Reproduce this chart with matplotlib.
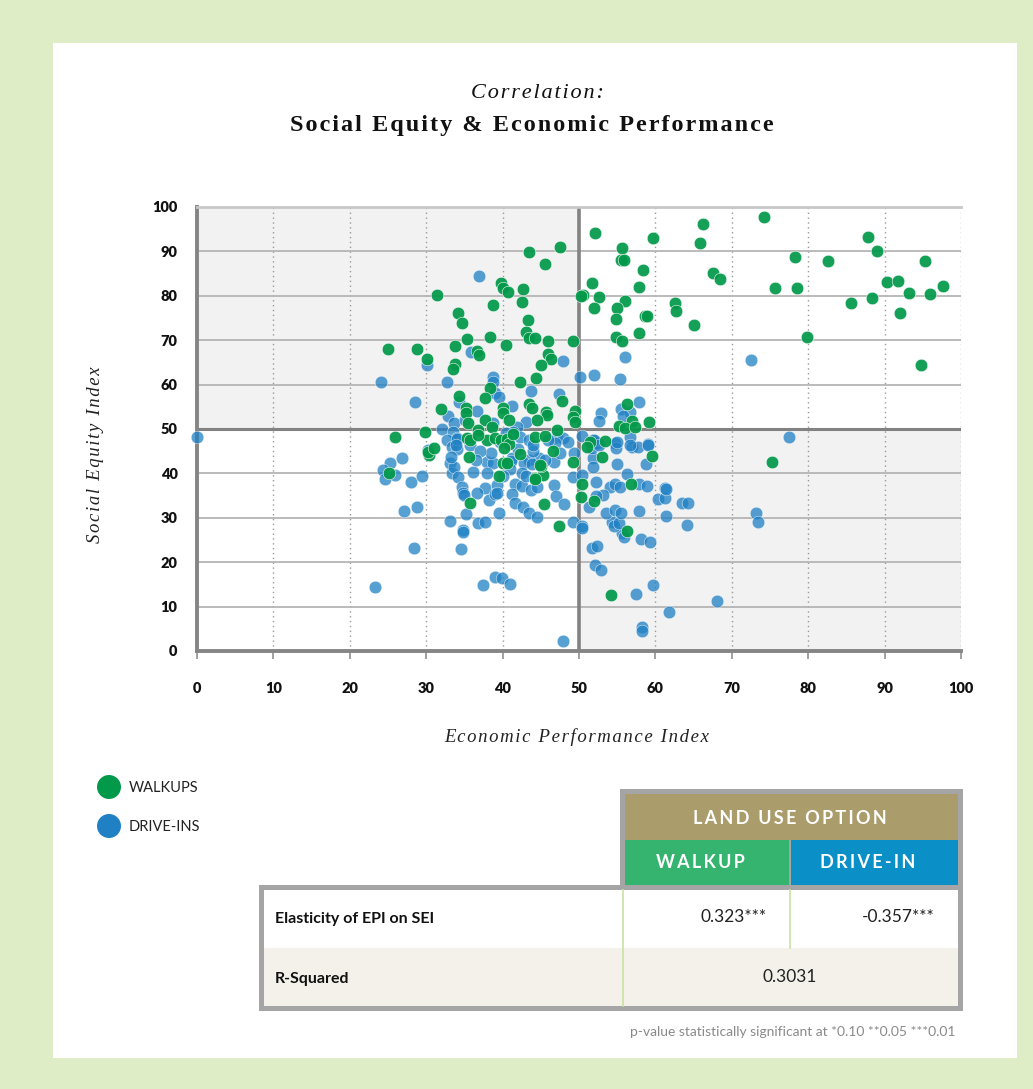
import matplotlib
matplotlib.use("Agg")
import matplotlib.pyplot as plt
from matplotlib.patches import Rectangle, Circle

plt.rcParams['font.family'] = ['Lato', 'DejaVu Sans']

# ---------------- data ----------------
walkup_x = [52.1, 59.7, 66.2, 74.2, 65.8, 55.6, 55.5, 55.9, 58.4, 67.5, 68.5, 75.7, 51.7, 57.9, 52.6,
            52.0, 56.0, 55.0, 54.9, 58.6, 58.9, 62.6, 62.7, 65.0, 57.9, 54.8, 55.6,
            87.8, 89.0, 78.3, 82.6, 95.3, 90.3, 91.8, 78.5, 97.6, 93.2, 95.9, 88.3, 85.6, 92.0, 79.8, 94.8,
            50.5, 50.3, 56.3, 56.9, 59.2, 55.2, 56.0, 57.3, 75.3,
            47.5, 43.5, 45.5, 39.8, 40.1, 40.7, 42.7, 31.4, 42.5, 38.7, 34.2, 34.7, 43.3, 43.1, 43.5, 44.2,
            45.9, 49.2, 35.3, 38.4, 40.4, 33.8, 28.8, 25.0, 36.6, 36.9, 45.9, 46.3, 45.0, 30.1, 33.8, 33.5,
            44.4, 42.3, 38.4, 37.7, 34.3, 47.8, 31.9, 35.2, 35.2, 40.1, 40.1, 43.5, 43.8, 49.5, 49.2, 45.7,
            45.8, 44.5, 37.7, 40.8, 35.5, 49.5, 38.6, 36.8, 47.1, 29.8,
            38.0, 39.0, 39.8, 40.6, 40.8, 40.2,
            25.9, 30.4, 30.2, 31.0, 35.3, 35.7, 36.8, 35.6, 25.1, 35.7, 40.1, 39.5, 42.3, 44.2, 45.3, 45.4,
            47.4, 49.2, 45.0, 46.6, 44.2, 45.5, 40.6, 44.9, 44.2, 41.4,
            50.4, 50.3, 51.9, 56.3, 54.2, 56.8, 53.0, 53.4, 59.5, 51.4, 51.0]
walkup_y = [94.1, 93.0, 96.2, 97.7, 91.9, 90.8, 88.1, 88.1, 85.8, 85.1, 83.8, 81.8, 82.9, 82.0, 79.7,
            77.2, 78.8, 77.2, 74.8, 75.5, 75.5, 78.4, 76.6, 73.4, 71.6, 70.7, 69.8,
            93.2, 90.1, 88.7, 87.8, 87.8, 83.1, 83.3, 81.8, 82.2, 80.6, 80.4, 79.5, 78.4, 76.1, 70.7, 64.4,
            80.2, 80.0, 55.6, 51.8, 51.6, 50.7, 50.2, 50.5, 42.5,
            91.0, 89.8, 87.2, 82.9, 81.8, 80.9, 81.5, 80.2, 78.6, 77.9, 76.2, 73.9, 74.5, 71.8, 70.5, 70.5,
            69.8, 69.8, 70.3, 70.7, 68.9, 68.7, 68.0, 68.0, 67.6, 66.7, 66.9, 65.8, 64.4, 65.8, 64.6, 63.5,
            61.5, 60.6, 59.2, 57.0, 57.4, 56.3, 54.5, 54.7, 53.6, 54.7, 53.6, 55.6, 54.7, 54.0, 52.7, 53.8,
            53.2, 52.0, 52.0, 52.0, 51.4, 51.6, 50.5, 49.8, 49.8, 49.3,
            47.5, 48.0, 47.5, 47.7, 46.7, 45.7,
            48.2, 44.1, 44.8, 45.7, 48.0, 47.5, 48.6, 43.7, 40.1, 33.3, 42.3, 39.4, 44.4, 39.0, 39.6, 33.1,
            28.2, 42.6, 41.7, 45.0, 48.2, 48.4, 42.3, 41.9, 38.7, 48.8,
            37.6, 34.7, 33.8, 27.0, 12.6, 37.6, 43.7, 47.3, 43.9, 47.1, 45.9]

drivein_x = [56.0, 72.5, 52.0, 55.4, 57.9, 52.9, 52.6, 55.5, 56.7, 55.8, 50.1,
             36.9, 35.9, 47.9, 30.1, 32.7, 24.1, 38.7, 38.7, 43.7, 39.0, 39.5, 34.3, 28.5, 47.4, 41.2,
             36.6, 32.9, 43.1, 33.6, 35.1, 38.7, 41.9,
             0.0, 23.3, 32.1, 33.5, 34.0, 32.7, 33.4, 34.0, 35.7, 30.2, 26.8, 25.3, 24.3, 24.6, 25.9, 28.0,
             29.5, 33.1, 33.4, 33.6, 34.2, 36.1, 34.7, 34.8, 34.9, 27.1, 28.8, 33.1, 35.2, 34.8, 36.8, 37.7,
             37.7, 36.6, 38.2, 34.0, 33.9, 33.2, 38.0, 38.7, 39.3, 39.0, 39.3, 34.8, 34.6, 39.5, 41.2, 41.1,
             41.6, 42.5, 41.2, 41.6, 42.7, 43.5, 44.5, 43.7, 46.7, 47.0, 48.0, 49.2, 50.4, 50.4, 49.2, 50.4,
             49.3, 46.7, 44.8, 43.5, 42.8, 43.8, 37.4, 39.0, 39.9, 41.0, 47.9, 28.4,
             42.3, 43.5, 47.1, 47.9, 46.9, 41.4, 50.4,
             39.6, 40.5, 42.0, 44.0, 45.5, 47.5, 48.5, 46.0, 44.0, 38.5, 37.0, 36.5, 42.5, 41.0, 43.0, 44.5,
             40.0, 38.0,
             77.5, 73.2, 73.4, 68.0, 61.8, 58.2, 58.3, 57.5, 59.7, 52.1, 52.9, 51.7, 52.4, 58.1, 59.3, 55.6,
             55.9, 54.3, 54.6, 55.2, 53.5, 54.7, 55.5, 57.9, 61.4, 64.1, 60.3, 61.3, 63.5, 64.3, 61.3, 61.4,
             57.9, 58.9, 54.1, 54.7, 55.4, 52.2, 53.1, 52.2, 56.3, 55.0, 58.8, 51.8, 51.8, 51.7, 52.5, 51.8,
             54.7, 54.8, 56.7, 56.9, 57.7, 59.0, 51.3, 55.0, 56.7, 59.0, 52.0, 52.6]
drivein_y = [66.2, 65.5, 62.2, 61.3, 56.1, 53.6, 51.8, 54.5, 53.8, 52.9, 61.7,
             84.5, 67.3, 65.3, 64.4, 60.6, 60.6, 61.7, 60.6, 58.6, 58.1, 57.2, 56.1, 56.1, 57.9, 55.2,
             54.0, 52.9, 51.6, 51.4, 52.0, 51.4, 50.5,
             48.2, 14.4, 50.0, 49.3, 48.0, 47.5, 45.9, 45.5, 46.4, 45.3, 43.5, 42.3, 40.8, 38.7, 39.6, 38.1,
             39.4, 42.3, 40.1, 41.4, 39.2, 40.3, 36.9, 35.6, 35.1, 31.5, 32.4, 29.3, 30.9, 27.3, 28.8, 29.1,
             36.7, 35.6, 34.0, 47.7, 46.4, 43.7, 42.6, 42.3, 37.4, 35.4, 35.6, 26.8, 23.0, 31.1, 43.5, 42.8,
             37.6, 37.2, 35.4, 33.3, 32.4, 31.1, 30.2, 36.3, 37.4, 34.9, 33.1, 29.1, 28.2, 27.7, 39.2, 39.6,
             44.6, 42.6, 43.5, 43.0, 42.3, 42.1, 14.9, 16.7, 16.4, 15.1, 2.3, 23.2,
             48.2, 47.5, 48.2, 48.0, 46.8, 49.3, 48.4,
             47.0, 49.0, 45.5, 45.0, 43.0, 44.5, 47.0, 47.5, 46.5, 44.5, 45.0, 43.0, 40.0, 41.0, 39.5, 37.0,
             39.5, 40.0,
             48.2, 31.1, 29.1, 11.3, 8.8, 5.4, 4.5, 12.8, 14.9, 19.4, 18.2, 23.2, 23.6, 25.2, 24.6, 26.6,
             25.7, 29.1, 28.2, 28.8, 31.1, 31.8, 31.1, 31.5, 30.4, 28.4, 34.2, 34.5, 33.3, 33.3, 36.7, 36.5,
             37.6, 37.2, 36.9, 37.6, 36.9, 38.1, 35.1, 34.9, 39.9, 42.1, 42.1, 43.5, 41.4, 45.7, 46.8, 47.5,
             46.8, 45.7, 48.2, 45.9, 45.9, 46.6, 32.4, 47.1, 46.4, 46.4, 47.5, 46.4]

ticks = list(range(0, 101, 10))
series_names = ["WALKUPS", "DRIVE-INS"]
table_header = "LAND USE OPTION"
table_cols = ["WALKUP", "DRIVE-IN"]
row_labels = ["Elasticity of EPI on SEI", "R-Squared"]
elasticity = ["0.323***", "-0.357***"]
r_squared = "0.3031"
footnote = "p-value statistically significant at *0.10 **0.05 ***0.01"

GREEN = '#03994a'
BLUE = '#1f80c4'

def spaced(s, sp='\u200a'):
    return sp.join(s)

SERIF = ['Liberation Serif', 'DejaVu Serif']

# ---------------- figure ----------------
W, H = 1033, 1089
fig = plt.figure(figsize=(W / 100, H / 100), dpi=100)
fig.patch.set_facecolor('#deedc5')

ov = fig.add_axes([0, 0, 1, 1], zorder=0)
ov.set_xlim(0, W)
ov.set_ylim(H, 0)
ov.axis('off')
ov.add_patch(Rectangle((53, 43), 964, 1015, fc='white', ec='none'))

# plot axes
L, R, T, B = 197, 961, 207, 651
ax = fig.add_axes([L / W, 1 - B / H, (R - L) / W, (B - T) / H], zorder=2)
ax.set_xlim(0, 100)
ax.set_ylim(0, 100)
ax.set_facecolor('white')
ax.add_patch(Rectangle((0, 50), 50, 50, fc='#f2f2f2', ec='none', zorder=0))
ax.add_patch(Rectangle((50, 0), 50, 50, fc='#f2f2f2', ec='none', zorder=0))

for x in ticks[1:]:
    if x != 50:
        ax.axvline(x, color='#9a9a9a', lw=1.0, ls=(0, (1, 2.5)), zorder=1)
for y in ticks[1:-1]:
    if y != 50:
        ax.axhline(y, color='#b5b5b5', lw=1.3, zorder=1)
ax.axvline(50, color='#828282', lw=2.6, zorder=1)
ax.axhline(50, color='#828282', lw=2.2, zorder=1)

ax.spines['right'].set_visible(False)
ax.spines['top'].set_color('#c8c8c8')
ax.spines['top'].set_linewidth(2.0)
for s in ['left', 'bottom']:
    ax.spines[s].set_color('#858585')
    ax.spines[s].set_linewidth(2.8)

ax.scatter(drivein_x, drivein_y, s=82, c=BLUE, alpha=0.75, edgecolors='white',
           linewidths=0.4, zorder=3, clip_on=False)
ax.scatter(walkup_x, walkup_y, s=82, c=GREEN, alpha=0.93, edgecolors='white',
           linewidths=0.4, zorder=4, clip_on=False)

ax.set_xticks(ticks)
ax.set_yticks(ticks)
ax.tick_params(axis='x', length=6, width=1.4, color='#a0a0a0', pad=16,
               labelsize=10.5, labelcolor='#111111')
ax.tick_params(axis='y', length=0, pad=14, labelsize=10.5, labelcolor='#111111')
for lab in ax.get_xticklabels() + ax.get_yticklabels():
    lab.set_fontweight('heavy')

# titles and axis labels
ov.text(537, 93, spaced("Correlation:"), ha='center', va='center', fontsize=16,
        style='italic', family=SERIF, color='#111111')
ov.text(532, 125, spaced("Social Equity & Economic Performance"), ha='center',
        va='center', fontsize=17.5, family=SERIF, color='#111111', fontweight='bold')
ov.text(577, 737, spaced("Economic Performance Index"), ha='center', va='center',
        fontsize=13.5, style='italic', family=SERIF, color='#222222')
ov.text(96, 455, spaced("Social Equity Index"), ha='center', va='center', rotation=90,
        fontsize=13.5, style='italic', family=SERIF, color='#222222')

# legend
ov.add_patch(Circle((109, 787), 12, fc=GREEN, ec='none'))
ov.add_patch(Circle((109, 826), 12, fc=BLUE, ec='none'))
ov.text(129, 788, series_names[0], ha='left', va='center', fontsize=10.5, color='#222222')
ov.text(129, 827, series_names[1], ha='left', va='center', fontsize=10.5, color='#222222')

# table
GRAY = '#a5a5a5'
ov.add_patch(Rectangle((620, 789), 343, 101, fc=GRAY, ec='none'))
ov.add_patch(Rectangle((625, 794), 333, 46, fc='#ab9c6b', ec='none'))
ov.add_patch(Rectangle((625, 840), 164, 46, fc='#35b46f', ec='none'))
ov.add_patch(Rectangle((791, 840), 167, 46, fc='#0a8fc6', ec='none'))
ov.add_patch(Rectangle((259, 885), 704, 126, fc=GRAY, ec='none'))
ov.add_patch(Rectangle((264, 890), 694, 58, fc='white', ec='none'))
ov.add_patch(Rectangle((264, 948), 694, 58, fc='#f3f1ea', ec='none'))
ov.plot([623, 623], [890, 1006], color='#c9e2a4', lw=1.2)
ov.plot([790, 790], [890, 948], color='#c9e2a4', lw=1.2)

ov.text(790, 818, spaced(table_header, '\u2009'), ha='center', va='center', fontsize=13,
        color='white', fontweight='bold')
ov.text(700, 863, spaced(table_cols[0], '\u2009'), ha='center', va='center', fontsize=13,
        color='white', fontweight='bold')
ov.text(868, 863, spaced(table_cols[1], '\u2009'), ha='center', va='center', fontsize=13,
        color='white', fontweight='bold')
ov.text(275, 919, row_labels[0], ha='left', va='center', fontsize=11.5,
        fontweight='bold', color='#111111')
ov.text(275, 979, row_labels[1], ha='left', va='center', fontsize=11.5,
        fontweight='bold', color='#111111')
ov.text(767, 917, elasticity[0], ha='right', va='center', fontsize=12.5, color='#222222')
ov.text(935, 917, elasticity[1], ha='right', va='center', fontsize=12.5, color='#222222')
ov.text(790, 977, r_squared, ha='center', va='center', fontsize=12.5, color='#222222')
ov.text(956, 1032, footnote, ha='right', va='center', fontsize=10, color='#8a8a8a')

fig.savefig("out.png", dpi=100, facecolor=fig.get_facecolor())
